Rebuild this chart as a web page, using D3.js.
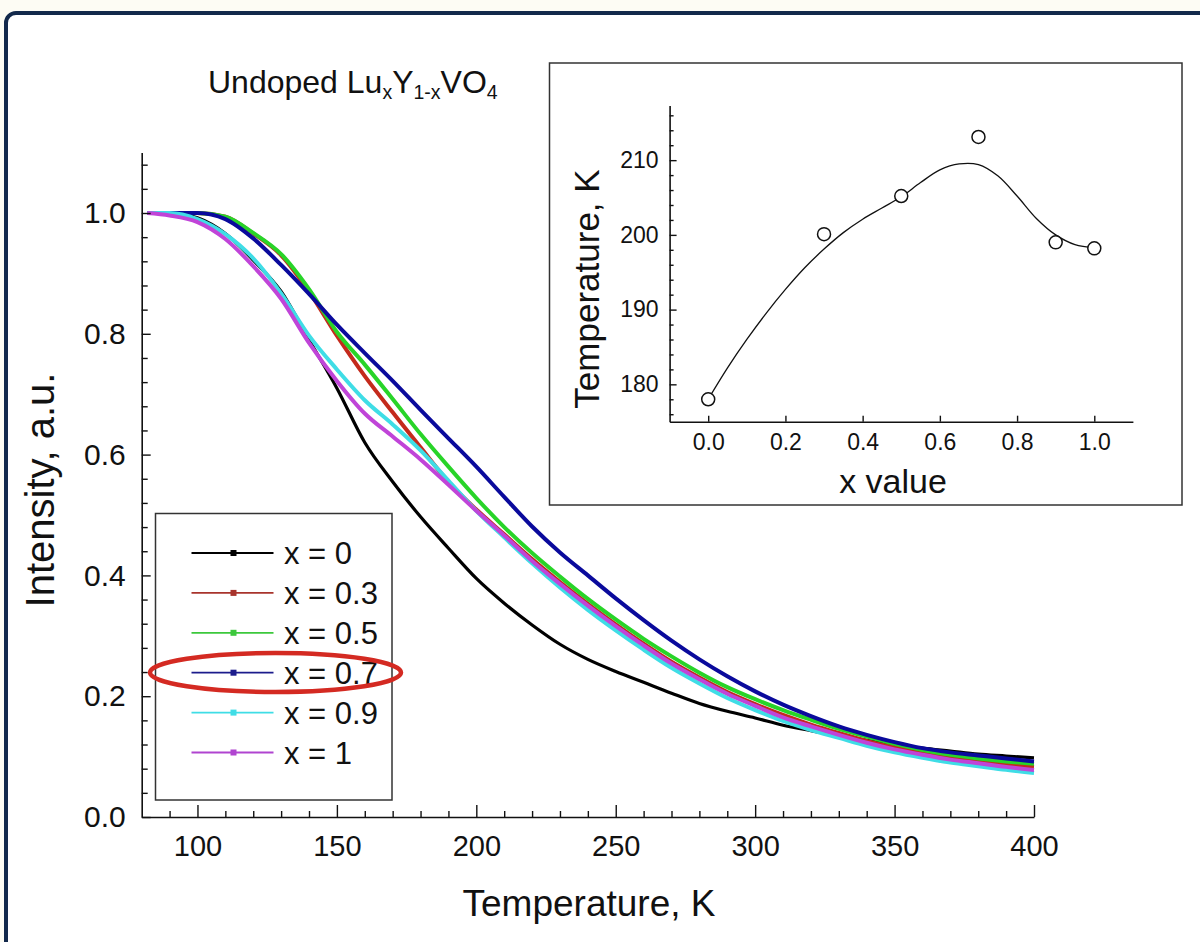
<!DOCTYPE html>
<html><head><meta charset="utf-8">
<script src="https://cdn.jsdelivr.net/npm/d3@7"></script>
<style>
body{margin:0;background:#fdfcf4;}
svg{display:block;}
text{font-family:"Liberation Sans",Arial,Helvetica,sans-serif;fill:#111;}
</style>
</head><body>
<svg id="c" width="1200" height="942"></svg>
<script>
// ---------------- data ----------------
const temps = [82,90,100,110,120,130,140,150,160,170,180,190,200,210,220,230,240,250,260,270,280,290,300,310,320,330,340,350,360,370,380,390,400];
const seriesLabels = ["x = 0","x = 0.3","x = 0.5","x = 0.7","x = 0.9","x = 1"];
const int_x0   = [1.0,1.0,0.992,0.966,0.922,0.87,0.79,0.71,0.62,0.555,0.497,0.445,0.395,0.354,0.318,0.286,0.261,0.241,0.223,0.205,0.188,0.175,0.164,0.152,0.143,0.135,0.127,0.12,0.114,0.109,0.104,0.101,0.098];
const int_x03  = [1.0,1.0,1.0,0.994,0.966,0.93,0.87,0.797,0.73,0.67,0.612,0.555,0.509,0.468,0.427,0.389,0.353,0.319,0.287,0.257,0.231,0.207,0.187,0.169,0.153,0.139,0.126,0.115,0.106,0.098,0.092,0.087,0.083];
const int_x05  = [1.0,1.0,1.0,0.994,0.967,0.932,0.874,0.803,0.749,0.692,0.634,0.58,0.528,0.48,0.437,0.398,0.361,0.327,0.295,0.266,0.239,0.215,0.195,0.177,0.161,0.146,0.133,0.121,0.111,0.103,0.097,0.092,0.088];
const int_x07  = [1.0,1.0,1.0,0.99,0.958,0.914,0.866,0.815,0.768,0.722,0.674,0.627,0.58,0.53,0.481,0.438,0.4,0.362,0.326,0.292,0.261,0.233,0.208,0.186,0.167,0.15,0.136,0.124,0.114,0.107,0.102,0.097,0.092];
const int_x09  = [1.0,1.0,0.99,0.965,0.925,0.867,0.797,0.741,0.69,0.65,0.607,0.557,0.507,0.463,0.42,0.38,0.343,0.309,0.277,0.247,0.221,0.197,0.177,0.159,0.144,0.131,0.118,0.107,0.098,0.09,0.084,0.078,0.073];
const int_x1   = [1.0,0.996,0.985,0.957,0.912,0.858,0.785,0.722,0.668,0.63,0.592,0.55,0.507,0.466,0.424,0.386,0.35,0.316,0.284,0.254,0.228,0.204,0.184,0.165,0.15,0.136,0.123,0.112,0.103,0.095,0.089,0.083,0.078];
const seriesColors = ["#000000","#c42a1c","#28d428","#0a0a9c","#3fdde6","#c044d8"];
const legendColors = ["#000000","#a8342c","#3cc83c","#1c1c8c","#3fdde6","#b044d0"];

const xTicks = [100,150,200,250,300,350,400];
const yTicks = [0.0,0.2,0.4,0.6,0.8,1.0];

// inset
const insetX = [0,0.3,0.5,0.7,0.9,1.0];
const insetT = [178.0,200.1,205.2,213.1,199.0,198.2];
const fitX = [0,0.05,0.1,0.15,0.2,0.25,0.3,0.35,0.4,0.45,0.5,0.55,0.6,0.65,0.7,0.75,0.8,0.85,0.9,0.95,1.0];
const fitT = [178.0,182.2,186.0,189.5,192.7,195.6,198.1,200.3,202.1,203.6,205.1,207.0,208.7,209.5,209.4,207.9,205.2,202.2,200.0,198.7,198.3];
const insetXTicks = [0.0,0.2,0.4,0.6,0.8,1.0];
const insetYTicks = [180,190,200,210];

// ---------------- drawing ----------------
const svg = d3.select("#c");
svg.append("rect").attr("x",6).attr("y",13).attr("width",1260).attr("height",1000)
  .attr("rx",10).attr("fill","#fff").attr("stroke","#13294b").attr("stroke-width",4);

const x = d3.scaleLinear().domain([80,400]).range([141.7,1034]);
const y = d3.scaleLinear().domain([0,1.1]).range([817,152.6]);

const series = [int_x0,int_x03,int_x05,int_x07,int_x09,int_x1];

const lg = svg.append("g");
lg.append("rect").attr("x",155.5).attr("y",513.5).attr("width",236.5).attr("height",286.5)
  .attr("fill","#fff").attr("stroke","#333").attr("stroke-width",1.5);

// curves
const line = d3.line().x((d,i)=>x(temps[i])).y(d=>y(d)).curve(d3.curveMonotoneX);
series.forEach((s,k)=>{
  svg.append("path").datum(s).attr("d",line).attr("fill","none")
    .attr("stroke",seriesColors[k]).attr("stroke-width",k===0?3.2:4)
    .attr("stroke-linejoin","round");
});

// main axes
function styleAxis(g){
  g.selectAll("path.domain").attr("stroke","#111").attr("stroke-width",1.6);
  g.selectAll("line").attr("stroke","#111").attr("stroke-width",1.4);
}
const gx = svg.append("g").attr("transform","translate(0,817)")
  .call(d3.axisBottom(x).tickValues(xTicks).tickSizeInner(-12).tickSizeOuter(0).tickPadding(18).tickFormat(d3.format("d")));
gx.selectAll("text").attr("font-size",29).attr("fill","#111");
styleAxis(gx);
const gxm = svg.append("g").attr("transform","translate(0,817)")
  .call(d3.axisBottom(x).tickValues(d3.range(90,400,10).filter(v=>v%50!==0)).tickSizeInner(-6).tickSizeOuter(0).tickFormat(""));
styleAxis(gxm); gxm.select("path.domain").remove();

const gy = svg.append("g").attr("transform","translate(141.7,0)")
  .call(d3.axisLeft(y).tickValues(yTicks).tickSizeInner(-9).tickSizeOuter(0).tickPadding(16).tickFormat(d3.format(".1f")));
gy.selectAll("text").attr("font-size",30).attr("fill","#111");
styleAxis(gy);
const gym = svg.append("g").attr("transform","translate(141.7,0)")
  .call(d3.axisLeft(y).tickValues(d3.range(0.04,1.1,0.04).filter(v=>Math.abs(v/0.2-Math.round(v/0.2))>0.01)).tickSizeInner(-6).tickSizeOuter(0).tickFormat(""));
styleAxis(gym); gym.select("path.domain").remove();

svg.append("text").attr("x",589).attr("y",916).attr("text-anchor","middle")
  .attr("font-size",37).text("Temperature, K");
svg.append("text").attr("transform","translate(54,490) rotate(-90)").attr("text-anchor","middle")
  .attr("font-size",40).text("Intensity, a.u.");

// title
const tt = svg.append("text").attr("x",208).attr("y",93).attr("font-size",32);
tt.append("tspan").text("Undoped Lu");
tt.append("tspan").attr("font-size",19.5).attr("dy",6).text("x");
tt.append("tspan").attr("dy",-6).text("Y");
tt.append("tspan").attr("font-size",19.5).attr("dy",6).text("1-x");
tt.append("tspan").attr("dy",-6).text("VO");
tt.append("tspan").attr("font-size",19.5).attr("dy",6).text("4");

// legend entries
const rowY = d3.scaleLinear().domain([0,5]).range([553,752.5]);
seriesLabels.forEach((lab,k)=>{
  const yy = rowY(k);
  lg.append("line").attr("x1",191.5).attr("x2",273.5).attr("y1",yy).attr("y2",yy)
    .attr("stroke",legendColors[k]).attr("stroke-width",1.8);
  lg.append("rect").attr("x",230.5).attr("y",yy-3).attr("width",6).attr("height",6).attr("fill",legendColors[k]);
  lg.append("text").attr("x",284).attr("y",yy+11).attr("font-size",31).text(lab);
});
svg.append("ellipse").attr("cx",275.5).attr("cy",672.5).attr("rx",125.5).attr("ry",19.5)
  .attr("fill","none").attr("stroke","#d42a22").attr("stroke-width",4.5);

// ---------------- inset ----------------
svg.append("rect").attr("x",549.5).attr("y",63).attr("width",632.5).attr("height",442)
  .attr("fill","#fff").attr("stroke","#333").attr("stroke-width",1.5);
const ix = d3.scaleLinear().domain([-0.1,1.1]).range([669.6,1132.9]);
const iy = d3.scaleLinear().domain([175,217.3]).range([421.7,105.6]);

const gix = svg.append("g").attr("transform","translate(0,421.7)")
  .call(d3.axisBottom(ix).tickValues(insetXTicks).tickSizeInner(-6).tickSizeOuter(0).tickPadding(12).tickFormat(d3.format(".1f")));
gix.selectAll("text").attr("font-size",23).attr("fill","#222");
styleAxis(gix);
const giy = svg.append("g").attr("transform","translate(669.6,0)")
  .call(d3.axisLeft(iy).tickValues(insetYTicks).tickSizeInner(-7).tickSizeOuter(0).tickPadding(11).tickFormat(d3.format("d")));
giy.selectAll("text").attr("font-size",23).attr("fill","#222");
styleAxis(giy);
const giym = svg.append("g").attr("transform","translate(669.6,0)")
  .call(d3.axisLeft(iy).tickValues(d3.range(176,217.3,2).filter(v=>v%10!==0)).tickSizeInner(-4).tickSizeOuter(0).tickFormat(""));
styleAxis(giym); giym.select("path.domain").remove();

const fitLine = d3.line().x((d,i)=>ix(fitX[i])).y(d=>iy(d)).curve(d3.curveCatmullRom.alpha(0.5));
svg.append("path").datum(fitT).attr("d",fitLine).attr("fill","none").attr("stroke","#111").attr("stroke-width",1.3);
svg.selectAll("circle.pt").data(insetT).enter().append("circle").attr("class","pt")
  .attr("cx",(d,i)=>ix(insetX[i])).attr("cy",d=>iy(d)).attr("r",6.5)
  .attr("fill","#fff").attr("stroke","#111").attr("stroke-width",1.5);

svg.append("text").attr("x",893).attr("y",493).attr("text-anchor","middle").attr("font-size",34).text("x value");
svg.append("text").attr("transform","translate(599,289) rotate(-90)").attr("text-anchor","middle")
  .attr("font-size",35).text("Temperature, K");
</script>
</body></html>
